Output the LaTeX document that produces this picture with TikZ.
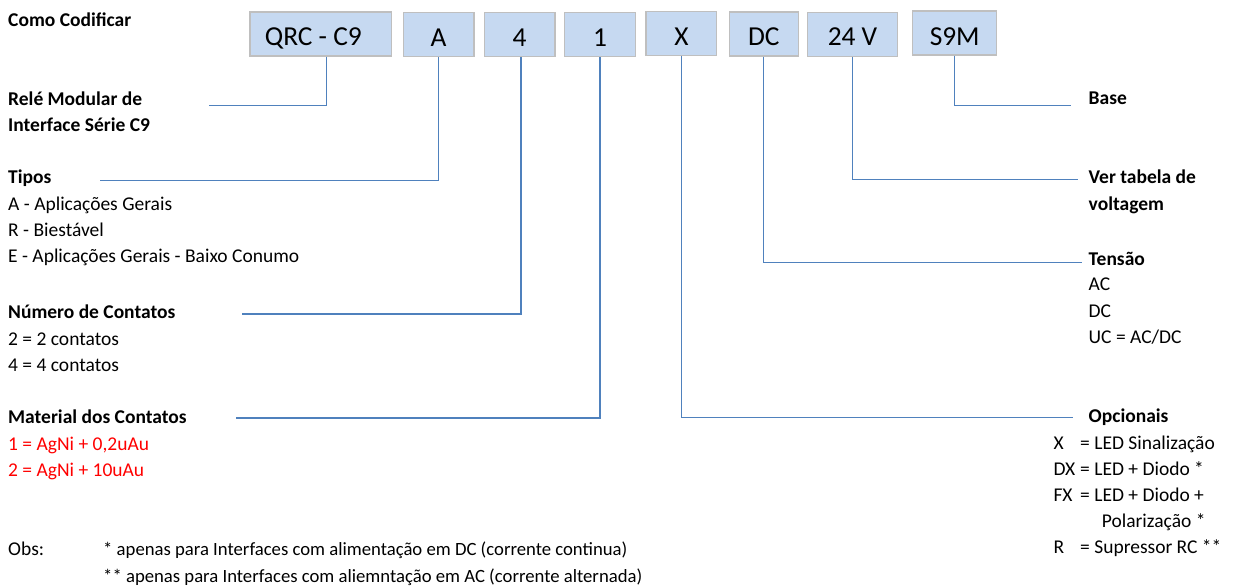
\documentclass[tikz,border=0pt]{standalone}
\usepackage{fontspec}
\setmainfont{Carlito}
\definecolor{boxfill}{HTML}{C6D9F1}
\definecolor{boxline}{HTML}{BFBFBF}
\definecolor{conncol}{HTML}{4F81BD}
\definecolor{redtxt}{HTML}{FF0000}
\begin{document}
\begin{tikzpicture}[x=1pt,y=-1pt,
  code/.style={draw=boxline, fill=boxfill, line width=1.2pt, inner sep=0pt,
    minimum height=44pt, text height=23pt, text depth=0pt,
    font=\fontsize{27.4}{30}\selectfont},
  lbl/.style={anchor=base west, inner sep=0pt, font=\fontsize{19.5}{24}\selectfont},
  blbl/.style={anchor=base west, inner sep=0pt, font=\fontsize{19.5}{24}\selectfont\bfseries},
  slbl/.style={anchor=base west, inner sep=0pt, font=\fontsize{18.7}{24}\selectfont},
  rlbl/.style={lbl, text=redtxt},
  conn/.style={draw=conncol, line width=1.2pt}]
\useasboundingbox (0,0) rectangle (1238,587);

% code boxes
\node[code, minimum width=141.7pt] (bQ) at (320.85,34) {QRC - C9\hspace*{15pt}};
\node[code, minimum width=70.7pt] (bA) at (438.65,34.5) {A};
\node[code, minimum width=70.7pt] (b4) at (519.65,34.5) {4};
\node[code, minimum width=71.4pt] (b1) at (600,34.5) {1};
\node[code, minimum width=70.7pt, text height=25pt] (bX) at (681.35,33.2) {X};
\node[code, minimum width=69pt] (bDC) at (763.8,34) {DC};
\node[code, minimum width=89.6pt] (bV) at (852.5,34.3) {24 V};
\node[code, minimum width=84pt, text height=25pt] (bS) at (954.7,33) {S9M};

% left column
\node[blbl] (tTitle) at (8,26) {Como Codificar};
\node[blbl] (tRele1) at (8,105) {Relé Modular de};
\node[blbl] (tRele2) at (8,131.7) {Interface Série C9};
\node[blbl] (tTipos) at (8,183.3) {Tipos};
\node[lbl] (tTipA) at (8,210) {A - Aplicações Gerais};
\node[lbl] (tTipR) at (8,236.3) {R - Biestável};
\node[lbl] (tTipE) at (8,262.5) {E - Aplicações Gerais - Baixo Conumo};
\node[blbl] (tNum) at (8,318.3) {Número de Contatos};
\node[lbl] (tNum2) at (8,345) {2 = 2 contatos};
\node[lbl] (tNum4) at (8,371.5) {4 = 4 contatos};
\node[blbl] (tMat) at (8,423.3) {Material dos Contatos};
\node[rlbl] (tMat1) at (8,450.3) {1 = AgNi + 0,2uAu};
\node[rlbl] (tMat2) at (8,476.7) {2 = AgNi + 10uAu};
\node[lbl] (tObs) at (8,555.5) {Obs:};
\node[slbl] (tObs1) at (103,555.5) {* apenas para Interfaces com alimentação em DC (corrente continua)};
\node[slbl] (tObs2) at (103,582) {** apenas para Interfaces com aliemntação em AC (corrente alternada)};

% right column
\node[blbl] (tBase) at (1088.5,104.3) {Base};
\node[blbl] (tVer1) at (1088.5,183.3) {Ver tabela de};
\node[blbl] (tVer2) at (1088.5,210) {voltagem};
\node[blbl] (tTen) at (1088.5,265) {Tensão};
\node[lbl] (tTenAC) at (1088.5,290.5) {AC};
\node[lbl] (tTenDC) at (1088.5,317) {DC};
\node[lbl] (tTenUC) at (1088.5,343.5) {UC = AC/DC};
\node[blbl] (tOpc) at (1088.5,422.3) {Opcionais};
\node[lbl] (oX) at (1053.3,449.3) {X};
\node[lbl] (oXd) at (1080,449.3) {= LED Sinalização};
\node[lbl] (oDX) at (1053.3,475.5) {DX};
\node[lbl] (oDXd) at (1080,475.5) {= LED + Diodo *};
\node[lbl] (oFX) at (1053.3,501.7) {FX};
\node[lbl] (oFXd) at (1080,501.7) {= LED + Diodo +};
\node[lbl] (oFXd2) at (1101.7,527.5) {Polarização *};
\node[lbl] (oR) at (1053.3,553) {R};
\node[lbl] (oRd) at (1080,553) {= Supressor RC **};

% connector ends
\coordinate (eQ) at (209,105.3);
\coordinate (eA) at (100,180.7);
\coordinate (e4) at (242,314);
\coordinate (e1) at (236,418);
\coordinate (eX) at (1073,417.7);
\coordinate (eDC) at (1082,262.3);
\coordinate (eV) at (1078,179.3);
\coordinate (eS) at (1070.7,105.7);

\draw[conn] ([xshift=5.9pt]bQ.south) |- (eQ);
\draw[conn] (bA.south) |- (eA);
\draw[conn] ([xshift=1.3pt]b4.south) |- (e4);
\draw[conn] (b1.south) |- (e1);
\draw[conn] (bX.south) |- (eX);
\draw[conn] (bDC.south) |- (eDC);
\draw[conn] (bV.south) |- (eV);
\draw[conn] (bS.south) |- (eS);
\end{tikzpicture}
\end{document}
